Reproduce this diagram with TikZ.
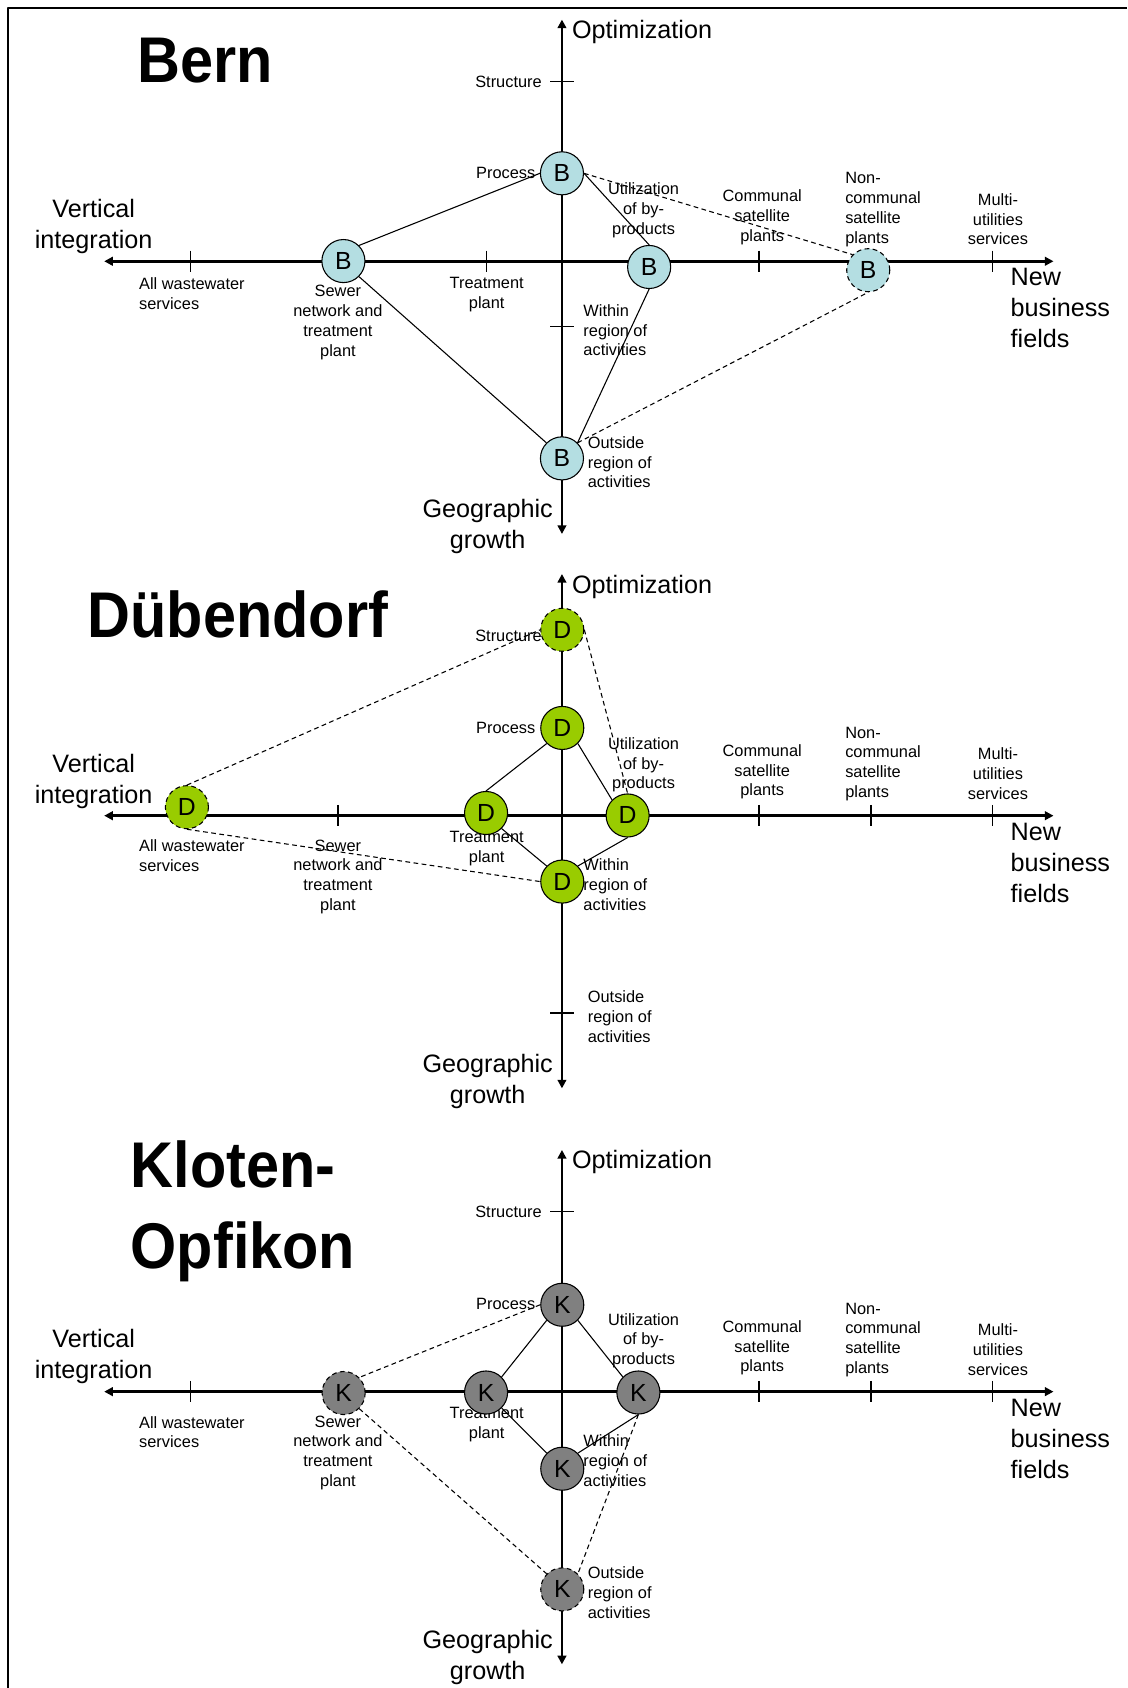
\documentclass[tikz,border=0pt]{standalone}
\usepackage{fontspec}
\setmainfont{Liberation Sans}
\newfontfamily\titlefont{Liberation Sans}[FakeStretch=0.92]
\usetikzlibrary{arrows.meta}
\definecolor{bernblue}{RGB}{180,222,226}
\definecolor{duebgreen}{RGB}{153,204,0}
\definecolor{klotgrey}{RGB}{128,128,128}
\begin{document}
\begin{tikzpicture}[x=0.5pt, y=-0.5pt, line join=round, >={Triangle[length=4pt,width=4pt]},
		small/.style={font=\fontsize{7.6}{9.2}\selectfont, inner sep=0pt},
		big/.style={font=\fontsize{11.7}{14.4}\selectfont, inner sep=0pt},
		title/.style={font=\titlefont\bfseries\fontsize{30}{37.5}\selectfont, inner sep=0pt},
		firm/.style={circle, draw, line width=0.5pt, minimum size=20pt, inner sep=0pt, font=\fontsize{11.5}{12}\selectfont},
		plan/.style={dash pattern=on 2.2pt off 1.6pt},
		link/.style={line width=0.5pt},
		tick/.style={line width=0.6pt}]
	\useasboundingbox (0,0) rectangle (1047,1568);
	\draw[line width=0.95pt] (7.4,1568)--(7.4,7.4)--(1047,7.4);
	% the three cross diagrams
	\foreach \oy/\p/\aw in {0/b/272.9,515/d/279.5,1050/k/280.4}{
		\begin{scope}[shift={(0,\oy)}]
			\draw[<->, line width=1.35pt] (96.8,242.7)--(978.6,242.7);
			\draw[<->, line width=1.1pt] (522,496)--(522,18.2);
			\foreach \tx in {177,314,452,593,705,809,922} \draw[tick] (\tx,232.7)--(\tx,252.7);
			\foreach \ty in {75.6,161,303.6,426} \draw[tick] (511,\ty)--(533,\ty);
			\node[big, anchor=west] (\p opt) at (531,29.8) {Optimization};
			\node[big, align=center] (\p geo) at (453,489.5) {Geographic\\growth};
			\node[big, align=center] (\p vert) at (87,210.5) {Vertical\\integration};
			\node[big, align=left, anchor=west] (\p new) at (938.4,286.5) {New\\business\\fields};
			\node[small, anchor=east] (\p struct) at (503.6,75.6) {Structure};
			\node[small, anchor=east] (\p proc) at (497.6,161) {Process};
			\node[small, align=left, anchor=west] (\p within) at (541.6,306.7) {Within\\region of\\activities};
			\node[small, align=left, anchor=west] (\p outside) at (545.7,429.4) {Outside\\region of\\activities};
			\node[small, align=left, anchor=west] (\p allw) at (128.9,\aw) {All wastewater\\services};
			\node[small, align=center] (\p sewer) at (313.9,299.5) {Sewer\\network and\\treatment\\plant};
			\node[small, align=center] (\p treat) at (452.1,273.4) {Treatment\\plant};
			\node[small, align=center] (\p util) at (597.8,195.4) {Utilization\\of by-\\products};
			\node[small, align=center] (\p comm) at (708,202) {Communal\\satellite\\plants};
			\node[small, align=left, anchor=west] (\p noncomm) at (784.8,194.6) {Non-\\communal\\satellite\\plants};
			\node[small, align=center] (\p multi) at (927,203.7) {Multi-\\utilities\\services};
		\end{scope}
	}
	% Bern
	\node[title] (bTitle) at (191,56.4) {Bern};
	\node[firm, fill=bernblue] (bProc) at (522,161) {B};
	\node[firm, fill=bernblue] (bSewer) at (319,242.5) {B};
	\node[firm, fill=bernblue] (bUtil) at (603,248) {B};
	\node[firm, plan, fill=bernblue] (bNonc) at (806.5,251) {B};
	\node[firm, fill=bernblue] (bOut) at (522,425.8) {B};
	\draw[link] (bSewer.north east)--(bProc.west);
	\draw[link] (bSewer.south east)--(bOut.north west);
	\draw[link] (bProc.east)--(bUtil.north);
	\draw[link] (bUtil.south)--(bOut.north east);
	\draw[link, plan] (bProc.east)--(bNonc.north west);
	\draw[link, plan] (bOut.north east)--(bNonc.south);
	% Duebendorf
	\node[title] (dTitle) at (221,570.6) {Dübendorf};
	\node[firm, plan, fill=duebgreen] (dStruct) at (522.3,585) {D};
	\node[firm, fill=duebgreen] (dProc) at (522.3,676.2) {D};
	\node[firm, plan, fill=duebgreen] (dAll) at (173.6,749.8) {D};
	\node[firm, fill=duebgreen] (dTreat) at (451.5,755.2) {D};
	\node[firm, fill=duebgreen] (dUtil) at (583,757.5) {D};
	\node[firm, fill=duebgreen] (dWithin) at (522.3,818.9) {D};
	\draw[link] (dProc.south west)--(dTreat.north);
	\draw[link] (dProc.south east)--(dUtil.north west);
	\draw[link] (dTreat.south east)--(dWithin.north west);
	\draw[link] (dUtil.south)--(dWithin.north east);
	\draw[link, plan] (dAll.north)--(dStruct.west);
	\draw[link, plan] (dStruct.east)--(dUtil.north);
	\draw[link, plan] (dAll.south)--(dWithin.west);
	% Kloten-Opfikon
	\node[title, align=left, anchor=north west] (kTitle) at (121,1059) {Kloten-\\Opfikon};
	\node[firm, fill=klotgrey] (kProc) at (522.3,1212) {K};
	\node[firm, plan, fill=klotgrey] (kSewer) at (319.2,1294) {K};
	\node[firm, fill=klotgrey] (kTreat) at (451.5,1293.5) {K};
	\node[firm, fill=klotgrey] (kUtil) at (593,1293.5) {K};
	\node[firm, fill=klotgrey] (kWithin) at (522.3,1364.3) {K};
	\node[firm, plan, fill=klotgrey] (kOut) at (522.3,1476.4) {K};
	\draw[link] (kProc.south west)--(kTreat.north east);
	\draw[link] (kProc.south east)--(kUtil.north west);
	\draw[link] (kTreat.south east)--(kWithin.north west);
	\draw[link] (kUtil.south)--(kWithin.north east);
	\draw[link, plan] (kProc.west)--(kSewer.north east);
	\draw[link, plan] (kSewer.south east)--(kOut.north west);
	\draw[link, plan] (kUtil.south)--(kOut.north east);
\end{tikzpicture}
\end{document}
